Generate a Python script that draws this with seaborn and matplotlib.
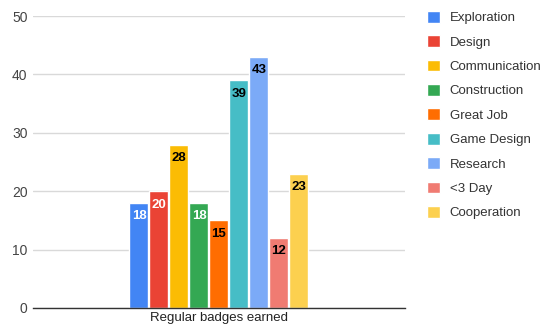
import matplotlib
matplotlib.use("Agg")
import matplotlib.pyplot as plt
import seaborn as sns
import pandas as pd

categories = ["Exploration", "Design", "Communication", "Construction", "Great Job",
              "Game Design", "Research", "<3 Day", "Cooperation"]
counts = [18, 20, 28, 18, 15, 39, 43, 12, 23]
group_label = "Regular badges earned"
colors = ["#4285F4", "#EA4335", "#FBBC04", "#34A853", "#FF6D01",
          "#46BDC6", "#7BAAF7", "#F07B72", "#FCD04F"]
label_colors = ["white", "white", "black", "white", "black",
                "black", "black", "black", "black"]
y_ticks = [0, 10, 20, 30, 40, 50]

df = pd.DataFrame({"group": [group_label] * len(categories),
                   "badge": categories, "count": counts})

sns.set_theme(style="white")
plt.rcParams["font.family"] = ["Liberation Sans", "DejaVu Sans"]

fig = plt.figure(figsize=(5.42, 3.28), dpi=100)
ax = fig.add_axes([0.061, 0.061, 0.686, 0.890])

sns.barplot(data=df, x="group", y="count", hue="badge", hue_order=categories,
            palette=colors, width=0.484, gap=0.05, ax=ax, legend=True,
            saturation=1, errorbar=None)

for container, lc in zip(ax.containers, label_colors):
    ax.bar_label(container, fmt="%d", label_type="edge", padding=-14,
                 color=lc, fontsize=9.5, fontweight="bold")

ax.set_ylim(0, 50)
ax.set_xlim(-0.5, 0.5)
ax.set_yticks(y_ticks)
ax.yaxis.grid(True, color="#d9d9d9", linewidth=1)
ax.set_axisbelow(True)
for s in ["left", "right", "top"]:
    ax.spines[s].set_visible(False)
ax.spines["bottom"].set_color("#333333")
ax.spines["bottom"].set_linewidth(1)
ax.tick_params(axis="both", length=0, labelsize=10, colors="#444444", pad=4)
ax.tick_params(axis="x", labelsize=9.5, colors="#222222", pad=3)
ax.set_xlabel("")
ax.set_ylabel("")

handles, labels = ax.get_legend_handles_labels()
ax.legend(handles, labels, loc="upper left", bbox_to_anchor=(0.765, 1.003),
          bbox_transform=fig.transFigure, frameon=False, fontsize=9.5,
          handlelength=1.0, handleheight=1.0, handletextpad=0.75,
          labelspacing=0.83, labelcolor="#333333")

fig.savefig("out.png", dpi=100)
